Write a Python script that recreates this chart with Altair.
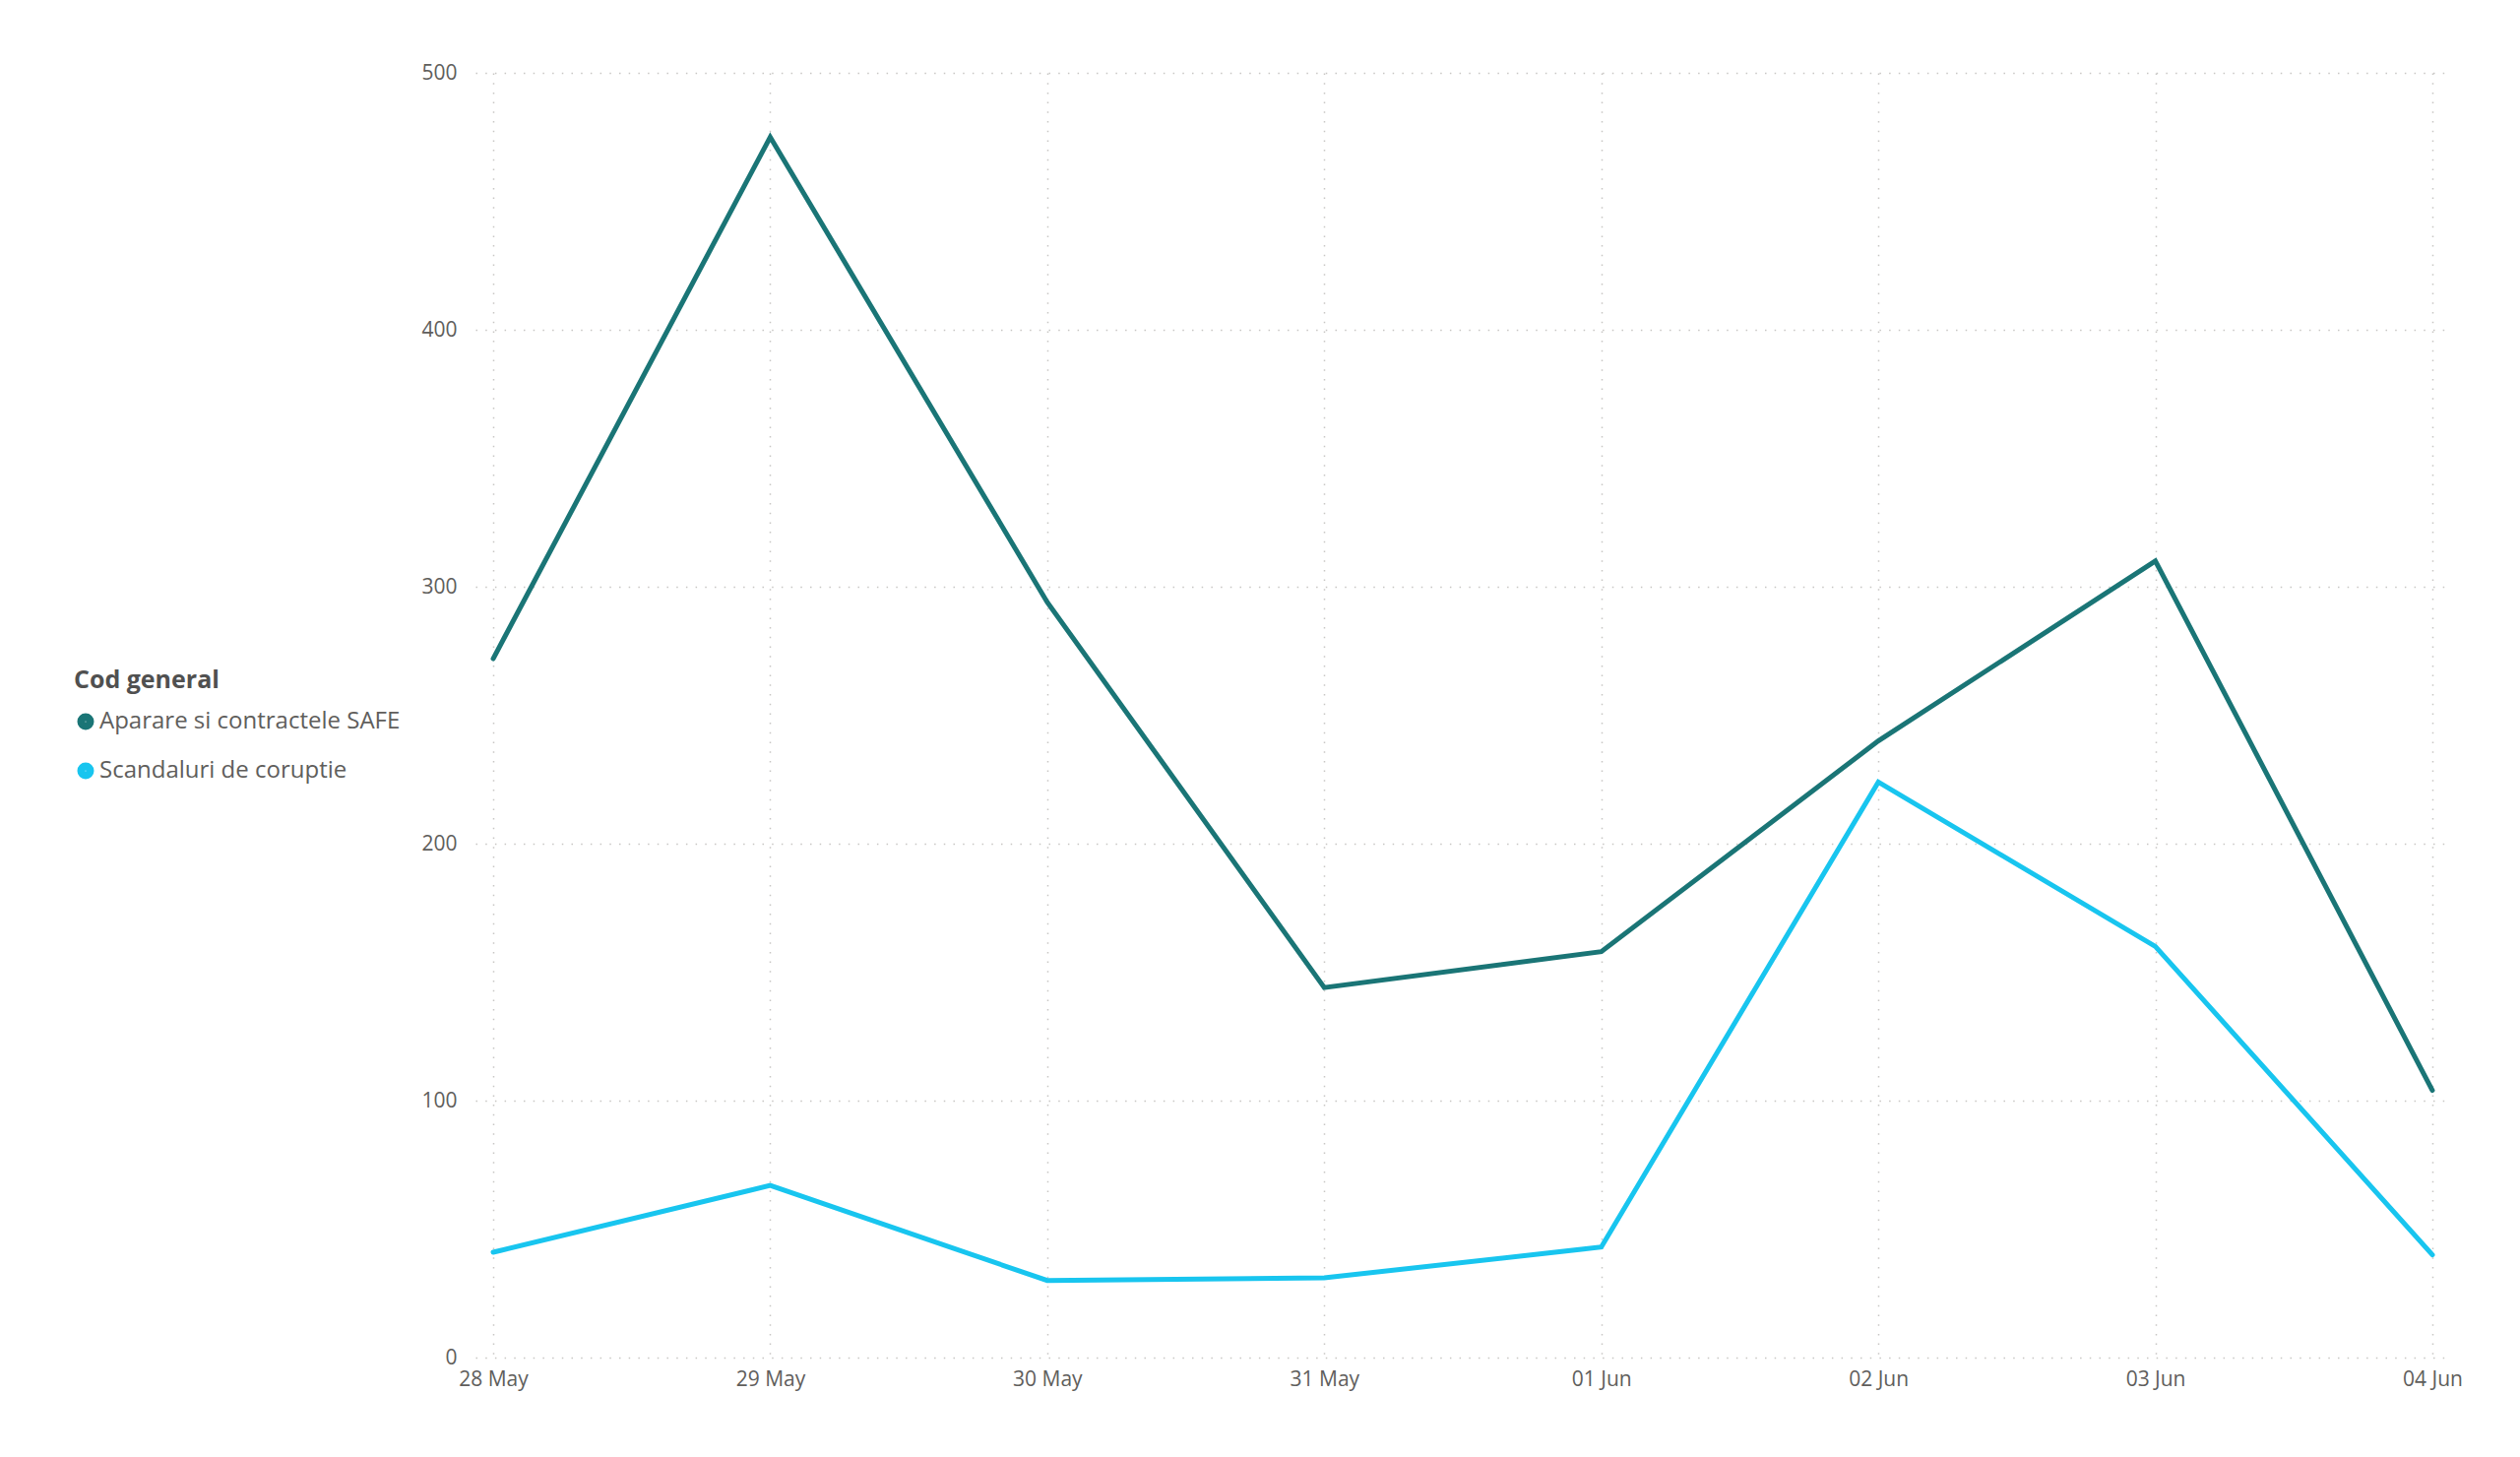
import altair as alt
import pandas as pd

days = ["28 May", "29 May", "30 May", "31 May", "01 Jun", "02 Jun", "03 Jun", "04 Jun"]
series_names = ["Aparare si contractele SAFE", "Scandaluri de coruptie"]
aparare = [272, 475, 294, 144, 158, 240, 310, 104]
scandaluri = [41, 67, 30, 31, 43, 224, 160, 40]
colors = ["#1A7576", "#18C5EF"]

rows = []
for d, v in zip(days, aparare):
    rows.append({"day": d, "value": v, "series": series_names[0]})
for d, v in zip(days, scandaluri):
    rows.append({"day": d, "value": v, "series": series_names[1]})
df = pd.DataFrame(rows)

FONT = "Segoe UI, Open Sans, sans-serif"
LABEL_COLOR = "#605E5C"

chart = (
    alt.Chart(df)
    .mark_line(strokeWidth=5, strokeCap="round")
    .encode(
        x=alt.X(
            "day:O",
            sort=days,
            scale=alt.Scale(type="point", padding=0.064),
            axis=alt.Axis(
                title=None,
                labelAngle=0,
                labelFontSize=21,
                labelColor=LABEL_COLOR,
                labelFont=FONT,
                labelPadding=11,
                ticks=False,
                tickSize=0,
                domain=False,
                grid=True,
                gridColor="#C8C6C4",
                gridDash=[1.5, 8.2],
                gridWidth=1.5,
            ),
        ),
        y=alt.Y(
            "value:Q",
            scale=alt.Scale(domain=[0, 500], nice=False),
            axis=alt.Axis(
                title=None,
                values=[0, 100, 200, 300, 400, 500],
                labelFontSize=21,
                labelColor=LABEL_COLOR,
                labelFont=FONT,
                labelPadding=19,
                ticks=False,
                tickSize=0,
                domain=False,
                grid=True,
                gridColor="#C8C6C4",
                gridDash=[1.5, 8.2],
                gridWidth=1.5,
            ),
        ),
        color=alt.Color(
            "series:N",
            sort=series_names,
            scale=alt.Scale(domain=series_names, range=colors),
            legend=alt.Legend(
                title="Cod general",
                orient="none",
                legendX=-408,
                legendY=605,
                titleFont=FONT,
                titleFontSize=25,
                titleFontWeight="bold",
                titleColor="#505050",
                titlePadding=17,
                labelFont=FONT,
                labelFontSize=24,
                labelColor=LABEL_COLOR,
                labelOffset=2,
                labelLimit=0,
                symbolType="circle",
                symbolSize=64,
                symbolStrokeWidth=9,
                rowPadding=6,
                padding=0,
            ),
        ),
    )
    .properties(
        width=2006,
        height=1305,
        padding={"left": 475, "top": 66, "right": 60, "bottom": 90},
        autosize=alt.AutoSizeParams(type="none"),
        background="white",
    )
    .configure_view(stroke=None)
)

chart.save("out.html", embed_options={"renderer": "svg", "actions": False})
